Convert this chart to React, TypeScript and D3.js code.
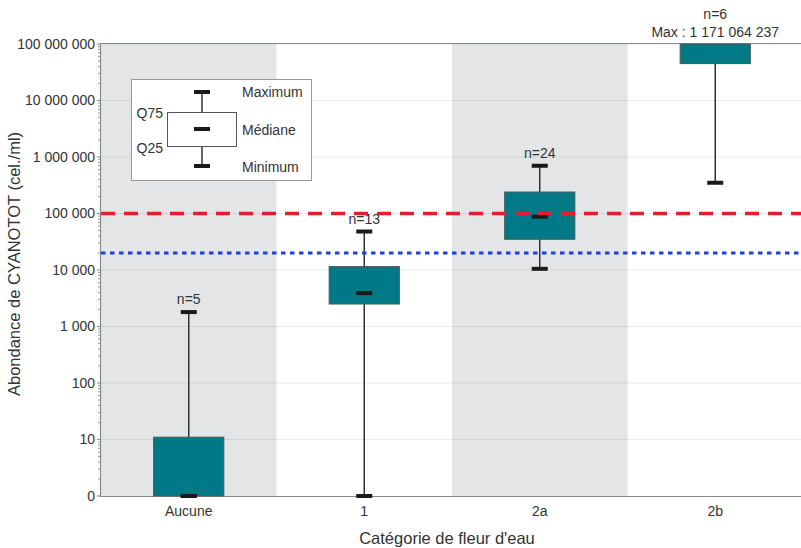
import React from "react";
import * as d3 from "d3";

const categories = ["Aucune", "1", "2a", "2b"];
const counts = [5, 13, 24, 6];
const minVals = [0, 0, 10500, 350000];
const q25Vals = [0, 2500, 35000, 45000000];
const medianVals = [0, 3900, 88000, 300000000];
const q75Vals = [11, 11500, 240000, 600000000];
const maxVals = [1800, 48000, 700000, 1171064237];
const yTickValues = [1, 10, 100, 1000, 10000, 100000, 1000000, 10000000, 100000000];
const yTickLabels = ["0", "10", "100", "1 000", "10 000", "100 000", "1 000 000", "10 000 000", "100 000 000"];
const redThreshold = 100000;
const blueThreshold = 20000;
const maxNote = "Max : 1 171 064 237";

const W = 801;
const H = 548;
const left = 101;
const right = 803;
const top = 44;
const bottom = 496;
const FONT = "'Liberation Sans', Arial, Helvetica, sans-serif";
const TXT = "#333";

export default function App() {
  const x = d3.scaleBand<string>().domain(categories).range([left, right]).paddingInner(0).paddingOuter(0);
  const y = d3.scaleLog().domain([1, 1e8]).range([bottom, top]);
  const yv = (v: number) => Math.max(top, y(Math.max(v, 1)));
  const bw = x.bandwidth();
  const boxW = bw * 0.4;
  const capW = 16;

  const minor: number[] = [];
  for (let e = 0; e < 8; e++) {
    for (let m = 2; m <= 9; m++) minor.push(m * Math.pow(10, e));
  }

  return (
    <svg width={W} height={H} style={{ position: "absolute", left: 0, top: 0 }} fontFamily={FONT}>
      <rect x={0} y={0} width={W} height={H} fill="#fff" />
      {categories.map((c, i) =>
        i % 2 === 0 ? (
          <rect key={c} x={x(c)!} y={top} width={bw} height={bottom - top} fill="#e4e5e7" />
        ) : null
      )}
      {yTickValues.slice(1).map((v) => (
        <line key={v} x1={left} x2={W} y1={y(v)} y2={y(v)} stroke="#000" strokeOpacity={0.08} strokeWidth={1} />
      ))}
      {/* axes */}
      <line x1={left} x2={W} y1={top - 0.5} y2={top - 0.5} stroke="#8a8a8a" strokeWidth={1.2} />
      <line x1={left} x2={W} y1={bottom + 0.5} y2={bottom + 0.5} stroke="#8a8a8a" strokeWidth={1.2} />
      <line x1={left - 0.5} x2={left - 0.5} y1={top - 1} y2={bottom + 1} stroke="#8a8a8a" strokeWidth={1.2} />
      {minor.map((v) => (
        <line key={"m" + v} x1={left - 3} x2={left - 1} y1={y(v)} y2={y(v)} stroke="#999" strokeWidth={1} />
      ))}
      {yTickValues.map((v) => (
        <line key={"t" + v} x1={left - 4} x2={left - 1} y1={y(v)} y2={y(v)} stroke="#888" strokeWidth={1} />
      ))}
      {yTickValues.map((v, i) => (
        <text key={"l" + v} x={left - 6} y={y(v)} dy="0.35em" textAnchor="end" fontSize={14} fill={TXT}>
          {yTickLabels[i]}
        </text>
      ))}
      {categories.map((c) => (
        <text key={"x" + c} x={x(c)! + bw / 2} y={516} textAnchor="middle" fontSize={14} fill={TXT}>
          {c}
        </text>
      ))}
      <text x={447} y={544} textAnchor="middle" fontSize={16.5} fill={TXT}>
        Catégorie de fleur d'eau
      </text>
      <text transform={`translate(20,264) rotate(-90)`} textAnchor="middle" fontSize={16.5} fill={TXT}>
        Abondance de CYANOTOT (cel./ml)
      </text>

      {/* boxes */}
      {categories.map((c, i) => {
        const cx = x(c)! + bw / 2;
        const yMax = yv(maxVals[i]);
        const yMin = yv(minVals[i]);
        const yQ75 = yv(q75Vals[i]);
        const yQ25 = yv(q25Vals[i]);
        const yMed = y(Math.max(medianVals[i], 1));
        const maxVisible = maxVals[i] <= 1e8;
        return (
          <g key={"b" + c}>
            <line x1={cx} x2={cx} y1={yMax} y2={yMin} stroke="#333" strokeWidth={1.5} />
            <rect x={cx - boxW / 2} y={yQ75} width={boxW} height={Math.max(yQ25 - yQ75, 0)} fill="#007987" stroke="#4a5a5e" strokeWidth={1} />
            {maxVisible && <rect x={cx - capW / 2} y={yMax - 2} width={capW} height={4} fill="#1a1a1a" />}
            <rect x={cx - capW / 2} y={yMin - 2} width={capW} height={4} fill="#1a1a1a" />
            {medianVals[i] <= 1e8 && <rect x={cx - capW / 2} y={yMed - 2} width={capW} height={4} fill="#1a1a1a" />}
            {maxVisible ? (
              <text x={cx} y={yMax - 8} textAnchor="middle" fontSize={14} fill={TXT}>
                n={counts[i]}
              </text>
            ) : (
              <g>
                <text x={cx} y={19} textAnchor="middle" fontSize={14} fill={TXT}>
                  n={counts[i]}
                </text>
                <text x={cx} y={37} textAnchor="middle" fontSize={14} fill={TXT}>
                  {maxNote}
                </text>
              </g>
            )}
          </g>
        );
      })}

      {/* thresholds */}
      <line x1={left} x2={W} y1={y(redThreshold)} y2={y(redThreshold)} stroke="#e0202f" strokeWidth={3.6} strokeDasharray="14,9" />
      <line x1={left} x2={W} y1={y(blueThreshold)} y2={y(blueThreshold)} stroke="#1d3fe0" strokeWidth={3.2} strokeDasharray="4.5,4.5" />

      {/* legend */}
      <g>
        <rect x={131.5} y={79.5} width={180} height={101} fill="#fff" stroke="#999" strokeWidth={1} />
        <line x1={202} x2={202} y1={92} y2={166} stroke="#333" strokeWidth={1.5} />
        <rect x={167.5} y={112.5} width={69} height={34} fill="#fff" stroke="#555" strokeWidth={1} />
        <rect x={194} y={90} width={16} height={4} fill="#1a1a1a" />
        <rect x={194} y={127} width={16} height={4} fill="#1a1a1a" />
        <rect x={194} y={164} width={16} height={4} fill="#1a1a1a" />
        <text x={242} y={97} fontSize={14} fill={TXT}>Maximum</text>
        <text x={242} y={135} fontSize={14} fill={TXT}>Médiane</text>
        <text x={242} y={172} fontSize={14} fill={TXT}>Minimum</text>
        <text x={163} y={118} textAnchor="end" fontSize={14} fill={TXT}>Q75</text>
        <text x={163} y={153} textAnchor="end" fontSize={14} fill={TXT}>Q25</text>
      </g>
    </svg>
  );
}
